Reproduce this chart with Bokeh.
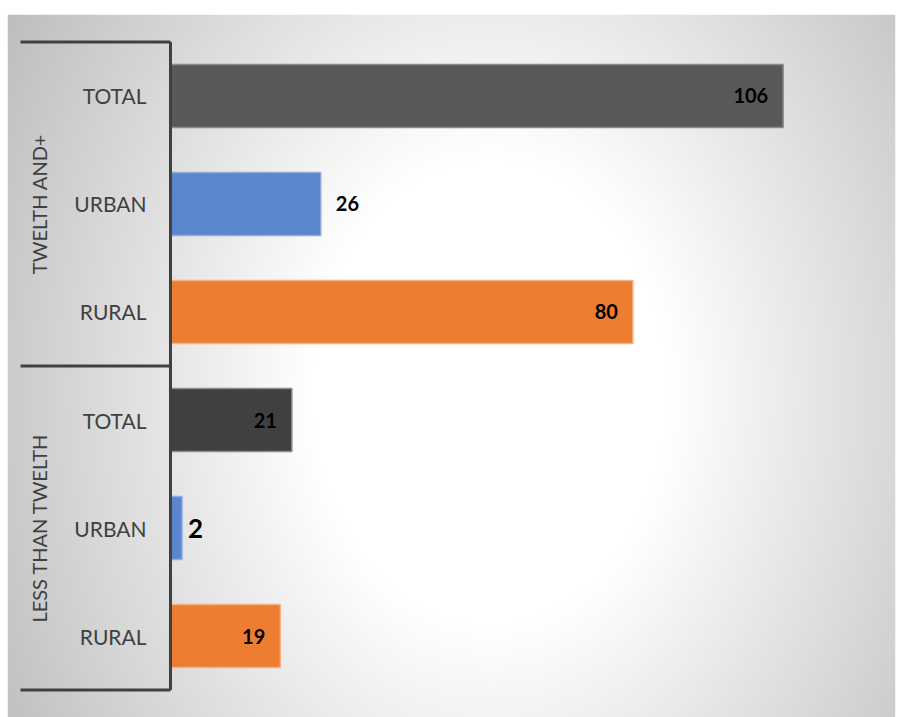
import numpy as np
from bokeh.plotting import figure
from bokeh.models import FactorRange, Range1d, ColumnDataSource
from bokeh.core.properties import value
from bokeh.embed import file_html
from bokeh.resources import INLINE

# ---- data ----
groups = ["TWELTH AND+", "LESS THAN TWELTH"]
areas = ["TOTAL", "URBAN", "RURAL"]
twelfth_values = [106, 26, 80]
less_values = [21, 2, 19]
# label placement per bar (inside end / outside end), as in the original
twelfth_label_pos = ["inside", "outside", "inside"]
less_label_pos = ["inside", "outside", "inside"]

values_by_group = {groups[0]: twelfth_values, groups[1]: less_values}
pos_by_group = {groups[0]: twelfth_label_pos, groups[1]: less_label_pos}

bar_fill = {
    (groups[0], "TOTAL"): "#595959",
    (groups[1], "TOTAL"): "#404040",
}
area_fill = {"URBAN": "#5B86CD", "RURAL": "#ED7D31"}
area_line = {"TOTAL": "#8C8C8C", "URBAN": "#8FAADC", "RURAL": "#F4B183"}

# factors from bottom to top
factors = [(g, a) for g in reversed(groups) for a in reversed(areas)]

W, H = 896, 717
LEFT, TOP, RIGHT = 7, 14, 1
FRAME_W = W - LEFT - RIGHT
FRAME_H = H - TOP
X0 = -28.2
X1 = X0 + FRAME_W / 5.78
PAD = 0.2546
NF = len(factors)

p = figure(
    width=W, height=H,
    x_range=Range1d(X0, X1),
    y_range=FactorRange(*factors, factor_padding=0, group_padding=0,
                        range_padding=PAD, range_padding_units="absolute"),
    output_backend="svg", toolbar_location=None,
    min_border_left=LEFT, min_border_right=RIGHT, min_border_top=TOP, min_border_bottom=0,
)
p.axis.visible = False
p.grid.visible = False
p.outline_line_color = None
p.border_fill_color = "white"

# ---- radial gradient background ----
nx, ny = 444, 352
xs = (np.arange(nx) + 0.5) * FRAME_W / nx + LEFT
ys = (np.arange(ny) + 0.5) * FRAME_H / ny + TOP
X, Y = np.meshgrid(xs, ys)
r = np.hypot(X - 490, (Y - 392) * 0.764)
v = 255 - 0.17 * np.clip(r - 179, 0, None)
v = np.clip(v, 188, 255).astype(np.uint8)[::-1]
img = np.empty((ny, nx), dtype=np.uint32)
view = img.view(dtype=np.uint8).reshape((ny, nx, 4))
view[:, :, 0] = v
view[:, :, 1] = v
view[:, :, 2] = v
view[:, :, 3] = 255
p.image_rgba(image=[img], x=X0, y=-PAD, dw=X1 - X0, dh=NF + 2 * PAD)

# ---- bars ----
ys_f, vals, fills, lines, labels, lpos = [], [], [], [], [], []
for g in groups:
    for a, val, pos in zip(areas, values_by_group[g], pos_by_group[g]):
        ys_f.append((g, a))
        vals.append(val)
        fills.append(bar_fill.get((g, a), area_fill.get(a)))
        lines.append(area_line[a])
        labels.append(str(val))
        lpos.append(pos)

src = ColumnDataSource(dict(y=ys_f, value=vals, fill=fills, line=lines))
p.hbar(y="y", left=0, right="value", height=0.583, source=src,
       fill_color="fill", line_color="line", line_width=1.5)

# ---- value labels ----
ins = [i for i, q in enumerate(lpos) if q == "inside"]
outs = [i for i, q in enumerate(lpos) if q == "outside"]
src_in = ColumnDataSource(dict(y=[ys_f[i] for i in ins], value=[vals[i] for i in ins],
                               text=[labels[i] for i in ins]))
src_out = ColumnDataSource(dict(y=[ys_f[i] for i in outs], value=[vals[i] for i in outs],
                                text=[labels[i] for i in outs],
                                size=["26px" if vals[i] < 10 else "20px" for i in outs],
                                xoff=[6 if vals[i] < 10 else 15 for i in outs]))
p.text(x="value", y="y", text="text", source=src_in, x_offset=-15,
       text_align="right", text_baseline="middle", text_font=value("Lato"),
       text_font_style="bold", text_font_size="20px", text_color="black")
p.text(x="value", y="y", text="text", source=src_out, x_offset="xoff",
       text_align="left", text_baseline="middle", text_font=value("Lato"),
       text_font_style="bold", text_font_size="size", text_color="black")

# ---- category labels (axis) ----
p.text(x=[0] * len(ys_f), y=ys_f, text=[a for (_, a) in ys_f], x_offset=-24,
       text_align="right", text_baseline="middle", text_font=value("Lato"),
       text_font_size="21px", text_color="#404040")
p.text(x=[0] * len(groups), y=groups, text=groups, x_offset=-131.5, angle=np.pi / 2,
       text_align="center", text_baseline="middle", text_font=value("Lato"),
       text_font_size="20px", text_color="#404040")

# ---- bracket lines ----
n = len(areas)
bounds = [0, n, 2 * n]
p.segment(x0=[-25.95] * 3, y0=bounds, x1=[0] * 3, y1=bounds,
          line_color="#404040", line_width=3)
p.segment(x0=[0], y0=[0], x1=[0], y1=[2 * n], line_color="#404040", line_width=3)

open("out.html", "w").write(file_html(p, INLINE))
